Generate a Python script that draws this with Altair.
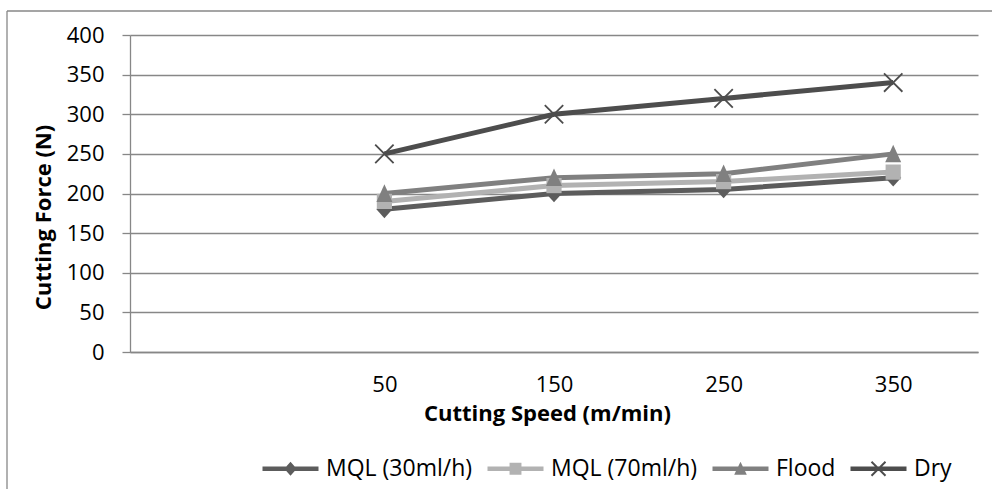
import altair as alt
import pandas as pd

speeds = [50, 150, 250, 350]
series_names = ["MQL (30ml/h)", "MQL (70ml/h)", "Flood", "Dry"]
mql30 = [180, 200, 205, 220]
mql70 = [190, 210, 215, 227]
flood = [200, 220, 225, 250]
dry = [250, 300, 320, 340]
y_ticks = [0, 50, 100, 150, 200, 250, 300, 350, 400]

colors = ["#5c5c5c", "#b2b2b2", "#808080", "#4d4d4d"]

rows = []
for name, vals in zip(series_names, [mql30, mql70, flood, dry]):
    for s, v in zip(speeds, vals):
        rows.append({"series": name, "speed": s, "force": v})
df = pd.DataFrame(rows)

# chart marker shapes (unit box)
chart_shapes = [
    "M0,-1.1 L1,0 L0,1.1 L-1,0 Z",
    "M-0.95,-0.95 L0.95,-0.95 L0.95,0.95 L-0.95,0.95 Z",
    "M0,-1.15 L1,1.05 L-1,1.05 Z",
    "M-1.07,-1.23 L1.23,1.07 L1.07,1.23 L-1.23,-1.07 Z M1.07,-1.23 L1.23,-1.07 L-1.07,1.23 L-1.23,1.07 Z",
]
# legend symbols: line + marker
legend_shapes = [
    "M-4,-0.33 L-0.6,-0.33 L0,-1 L0.6,-0.33 L4,-0.33 L4,0.33 L0.6,0.33 L0,1 L-0.6,0.33 L-4,0.33 Z",
    "M-4,-0.33 L-0.85,-0.33 L-0.85,-0.85 L0.85,-0.85 L0.85,-0.33 L4,-0.33 L4,0.33 L0.85,0.33 L0.85,0.85 L-0.85,0.85 L-0.85,0.33 L-4,0.33 Z",
    "M-4,-0.33 L-0.33,-0.33 L0,-1 L0.33,-0.33 L4,-0.33 L4,0.33 L0.65,0.33 L0.9,0.85 L-0.9,0.85 L-0.65,0.33 L-4,0.33 Z",
    "M-4,-0.33 L4,-0.33 L4,0.33 L-4,0.33 Z M-0.9,-1.1 L1.1,0.9 L0.9,1.1 L-1.1,-0.9 Z M0.9,-1.1 L1.1,-0.9 L-0.9,1.1 L-1.1,0.9 Z",
]

FONT = "Open Sans"
GRID = "#878787"

x_axis = alt.Axis(
    values=speeds, grid=False, ticks=False, tickSize=0,
    domainColor=GRID, domainWidth=1.3,
    labelFont=FONT, labelFontSize=22, labelColor="#000000", labelPadding=22,
    labelOverlap=False,
    title="Cutting Speed (m/min)", titleFont=FONT, titleFontSize=22,
    titleFontWeight="bold", titleColor="#000000",
    titleX=417, titleY=61, titleBaseline="middle",
)
y_axis = alt.Axis(
    values=y_ticks, grid=True, gridColor=GRID, gridWidth=1.3,
    ticks=True, tickSize=8, tickColor=GRID, tickWidth=1.3,
    domainColor=GRID, domainWidth=1.3,
    labelFont=FONT, labelFontSize=22, labelColor="#000000", labelPadding=18,
    labelOverlap=False,
    title="Cutting Force (N)", titleFont=FONT, titleFontSize=22,
    titleFontWeight="bold", titleColor="#000000",
    titleX=-87, titleY=182, titleAngle=270, titleBaseline="middle",
)
x_scale = alt.Scale(domain=[-100, 400], nice=False, zero=False)
y_scale = alt.Scale(domain=[0, 400], nice=False)


def xe():
    return alt.X("speed:Q", scale=x_scale, axis=x_axis)


def ye():
    return alt.Y("force:Q", scale=y_scale, axis=y_axis)


color_scale = alt.Scale(domain=series_names, range=colors)

lines = alt.Chart(df).mark_line(strokeWidth=5).encode(
    x=xe(), y=ye(),
    color=alt.Color("series:N", scale=color_scale, legend=None),
)

points = alt.Chart(df).mark_point(filled=True, opacity=1, size=256, strokeWidth=0).encode(
    x=xe(), y=ye(),
    color=alt.Color("series:N", scale=color_scale, legend=None),
    shape=alt.Shape("series:N", scale=alt.Scale(domain=series_names, range=chart_shapes), legend=None),
)

leg = alt.Legend(
    title=None, orient="none", direction="horizontal", legendX=149, legendY=422,
    labelFont=FONT, labelFontSize=23, labelColor="#000000", labelOffset=24,
    symbolSize=196, symbolStrokeWidth=0, columnPadding=14, padding=0,
)
legend_layer = alt.Chart(df).mark_point(filled=True, opacity=1, strokeWidth=0).encode(
    x=xe(), y=ye(),
    color=alt.Color("series:N", scale=color_scale, legend=leg),
    shape=alt.Shape("series:N", scale=alt.Scale(domain=series_names, range=legend_shapes), legend=leg),
).transform_filter("false")

frame_left = alt.Chart(alt.Data(values=[{}])).mark_rule(color=GRID, strokeWidth=1.3).encode(
    x=alt.value(-123), y=alt.value(-24), y2=alt.value(480)
)
frame_top = alt.Chart(alt.Data(values=[{}])).mark_rule(color=GRID, strokeWidth=1.3).encode(
    x=alt.value(-123), x2=alt.value(880), y=alt.value(-24)
)

chart = alt.layer(lines, points, legend_layer, frame_left, frame_top).resolve_scale(
    color="independent", shape="independent"
).properties(
    width=848, height=317,
    padding={"left": 130, "top": 35, "right": 14, "bottom": 137},
    autosize=alt.AutoSizeParams(type="none"),
    background="white",
).configure_view(stroke=None)

chart.save("out.html", embed_options={"renderer": "svg", "actions": False})
